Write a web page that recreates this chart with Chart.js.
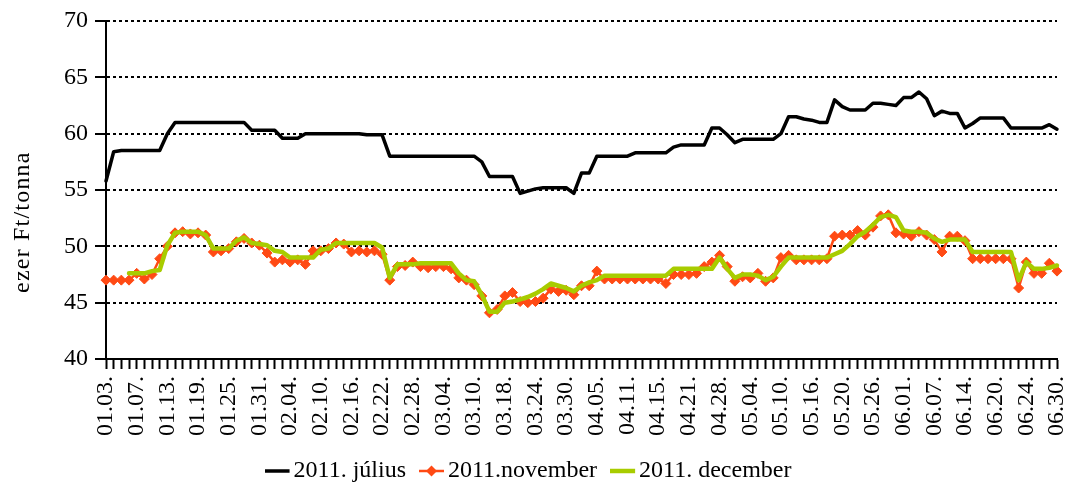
<!DOCTYPE html>
<html>
<head>
<meta charset="utf-8">
<script src="https://cdn.jsdelivr.net/npm/chart.js@4.4.1/dist/chart.umd.min.js"></script>
<style>
  html, body { margin: 0; padding: 0; background: #ffffff; }
  #wrap { width: 1069px; height: 486px; }
</style>
</head>
<body>
<div id="wrap"><canvas id="priceChart" width="1069" height="486"></canvas></div>
<script>
// trading days, 2011 jan - jun
var dates = [
  "01.03.", "01.04.", "01.05.", "01.06.", "01.07.", "01.10.", "01.11.", "01.12.", "01.13.", "01.14.",
  "01.17.", "01.18.", "01.19.", "01.20.", "01.21.", "01.24.", "01.25.", "01.26.", "01.27.", "01.28.",
  "01.31.", "02.01.", "02.02.", "02.03.", "02.04.", "02.07.", "02.08.", "02.09.", "02.10.", "02.11.",
  "02.14.", "02.15.", "02.16.", "02.17.", "02.18.", "02.21.", "02.22.", "02.23.", "02.24.", "02.25.",
  "02.28.", "03.01.", "03.02.", "03.03.", "03.04.", "03.07.", "03.08.", "03.09.", "03.10.", "03.11.",
  "03.16.", "03.17.", "03.18.", "03.21.", "03.22.", "03.23.", "03.24.", "03.25.", "03.28.", "03.29.",
  "03.30.", "03.31.", "04.01.", "04.04.", "04.05.", "04.06.", "04.07.", "04.08.", "04.11.", "04.12.",
  "04.13.", "04.14.", "04.15.", "04.18.", "04.19.", "04.20.", "04.21.", "04.22.", "04.26.", "04.27.",
  "04.28.", "04.29.", "05.02.", "05.03.", "05.04.", "05.05.", "05.06.", "05.09.", "05.10.", "05.11.",
  "05.12.", "05.13.", "05.16.", "05.17.", "05.18.", "05.19.", "05.20.", "05.23.", "05.24.", "05.25.",
  "05.26.", "05.27.", "05.30.", "05.31.", "06.01.", "06.02.", "06.03.", "06.06.", "06.07.", "06.08.",
  "06.09.", "06.10.", "06.14.", "06.15.", "06.16.", "06.17.", "06.20.", "06.21.", "06.22.", "06.23.",
  "06.24.", "06.27.", "06.28.", "06.29.", "06.30."
];

var julius = [
  55.8, 58.4, 58.5, 58.5, 58.5, 58.5, 58.5, 58.5, 60.0, 61.0,
  61.0, 61.0, 61.0, 61.0, 61.0, 61.0, 61.0, 61.0, 61.0, 60.3,
  60.3, 60.3, 60.3, 59.6, 59.6, 59.6, 60.0, 60.0, 60.0, 60.0,
  60.0, 60.0, 60.0, 60.0, 59.9, 59.9, 59.9, 58.0, 58.0, 58.0,
  58.0, 58.0, 58.0, 58.0, 58.0, 58.0, 58.0, 58.0, 58.0, 57.5,
  56.2, 56.2, 56.2, 56.2, 54.7, 54.9, 55.1, 55.2, 55.2, 55.2,
  55.2, 54.7, 56.5, 56.5, 58.0, 58.0, 58.0, 58.0, 58.0, 58.3,
  58.3, 58.3, 58.3, 58.3, 58.8, 59.0, 59.0, 59.0, 59.0, 60.5,
  60.5, 59.9, 59.2, 59.5, 59.5, 59.5, 59.5, 59.5, 60.0, 61.5,
  61.5, 61.3, 61.2, 61.0, 61.0, 63.0, 62.4, 62.1, 62.1, 62.1,
  62.7, 62.7, 62.6, 62.5, 63.2, 63.2, 63.7, 63.1, 61.6, 62.0,
  61.8, 61.8, 60.5, 60.9, 61.4, 61.4, 61.4, 61.4, 60.5, 60.5,
  60.5, 60.5, 60.5, 60.8, 60.4
];

var november = [
  47.0, 47.0, 47.0, 47.0, 47.6, 47.1, 47.5, 48.9, 50.0, 51.2,
  51.3, 51.1, 51.2, 51.0, 49.5, 49.6, 49.8, 50.4, 50.7, 50.3,
  50.1, 49.4, 48.6, 48.8, 48.6, 48.8, 48.4, 49.6, 49.6, 49.8,
  50.3, 50.2, 49.5, 49.6, 49.5, 49.6, 49.3, 47.0, 48.2, 48.3,
  48.6, 48.2, 48.1, 48.2, 48.2, 48.0, 47.2, 47.0, 46.6, 45.6,
  44.1, 44.4, 45.6, 45.9, 45.1, 45.0, 45.1, 45.4, 46.2, 46.0,
  46.1, 45.7, 46.5, 46.5, 47.8, 47.1, 47.1, 47.1, 47.1, 47.1,
  47.1, 47.1, 47.1, 46.7, 47.5, 47.5, 47.5, 47.6, 48.2, 48.6,
  49.2, 48.2, 46.9, 47.3, 47.2, 47.6, 46.9, 47.2, 49.0, 49.2,
  48.8, 48.8, 48.8, 48.8, 48.9, 50.9, 51.0, 51.0, 51.4, 51.0,
  51.7, 52.7, 52.8, 51.2, 51.1, 50.9, 51.3, 51.0, 50.6, 49.5,
  50.9, 50.9, 50.5, 48.9, 48.9, 48.9, 48.9, 48.9, 48.9, 46.3,
  48.6, 47.6, 47.6, 48.5, 47.8
];

var december = [
  null, null, null, 47.6, 47.6, 47.6, 47.8, 47.9, 50.1, 51.2,
  51.3, 51.3, 51.3, 51.0, 49.8, 49.8, 49.8, 50.5, 50.8, 50.3,
  50.2, 50.1, 49.6, 49.5, 49.0, 49.0, 49.0, 49.0, 49.7, 49.8,
  50.3, 50.3, 50.3, 50.3, 50.3, 50.3, 49.9, 47.2, 48.4, 48.4,
  48.4, 48.5, 48.5, 48.5, 48.5, 48.5, 47.6, 47.0, 46.9, 45.7,
  44.2, 44.2, 45.0, 45.1, 45.3, 45.5, 45.8, 46.2, 46.7, 46.5,
  46.3, 46.0, 46.5, 46.8, 47.0, 47.4, 47.4, 47.4, 47.4, 47.4,
  47.4, 47.4, 47.4, 47.4, 48.0, 48.0, 48.0, 48.0, 48.0, 48.0,
  49.0, 48.0, 47.2, 47.5, 47.5, 47.4, 47.0, 47.3, 48.2, 49.0,
  49.0, 49.0, 49.0, 49.0, 49.0, 49.3, 49.6, 50.2, 50.9, 51.3,
  51.9, 52.6, 52.8, 52.6, 51.4, 51.3, 51.3, 51.2, 50.7, 50.4,
  50.6, 50.6, 50.6, 49.5, 49.5, 49.5, 49.5, 49.5, 49.5, 47.0,
  48.6, 48.0, 48.0, 48.1, 48.3
];

var seriesNames = ["2011. július", "2011.november", "2011. december"];
var seriesColors = ["#000000", "#ff4a14", "#a8cc00"];
var yTitle = "ezer Ft/tonna";

var serif = "'Liberation Serif', 'Times New Roman', serif";

// small legend icons: line, or line with diamond
function legendIcon(color, width, diamond) {
  var c = document.createElement("canvas");
  c.width = 26;
  c.height = 14;
  var g = c.getContext("2d");
  g.strokeStyle = color;
  g.lineWidth = width;
  g.beginPath();
  g.moveTo(0, 7);
  g.lineTo(25, 7);
  g.stroke();
  if (diamond) {
    g.fillStyle = color;
    g.beginPath();
    g.moveTo(12.5, 1.5);
    g.lineTo(18, 7);
    g.lineTo(12.5, 12.5);
    g.lineTo(7, 7);
    g.closePath();
    g.fill();
  }
  return c;
}

var icons = [
  legendIcon(seriesColors[0], 3.5, false),
  legendIcon(seriesColors[1], 2.5, true),
  legendIcon(seriesColors[2], 4.5, false)
];

// axis title sits a bit below the middle of the plot, like the original
var yTitlePlugin = {
  id: "yTitle",
  afterDraw: function (chart) {
    var ctx = chart.ctx;
    var area = chart.chartArea;
    ctx.save();
    ctx.translate(23, area.top + (area.bottom - area.top) * 0.595);
    ctx.rotate(-Math.PI / 2);
    ctx.font = "24px " + serif;
    if ("letterSpacing" in ctx) ctx.letterSpacing = "1.2px";
    ctx.fillStyle = "#000000";
    ctx.textAlign = "center";
    ctx.textBaseline = "middle";
    ctx.fillText(yTitle, 0, 0);
    ctx.restore();
  },
};

new Chart(document.getElementById("priceChart"), {
  type: "line",
  data: {
    labels: dates,
    datasets: [
      {
        label: seriesNames[0],
        data: julius,
        borderColor: seriesColors[0],
        borderWidth: 3.5,
        pointRadius: 0,
        order: 2,
      },
      {
        label: seriesNames[1],
        data: november,
        borderColor: seriesColors[1],
        backgroundColor: seriesColors[1],
        borderWidth: 2.5,
        pointStyle: "rectRot",
        pointRadius: 5,
        pointBorderWidth: 1,
        order: 1,
      },
      {
        label: seriesNames[2],
        data: december,
        borderColor: seriesColors[2],
        borderWidth: 4.5,
        pointRadius: 0,
        order: 0,
      },
    ],
  },
  plugins: [yTitlePlugin],
  options: {
    responsive: false,
    animation: false,
    devicePixelRatio: 1,
    clip: false,
    elements: {
      line: { tension: 0, borderJoinStyle: "round", borderCapStyle: "round", fill: false },
    },
    layout: {
      padding: { left: 8, right: 12, top: 21, bottom: 0 },
    },
    plugins: {
      title: { display: false },
      tooltip: { enabled: false },
      legend: {
        display: true,
        position: "bottom",
        maxHeight: 49,
        labels: {
          color: "#000000",
          font: { family: serif, size: 24 },
          usePointStyle: true,
          pointStyleWidth: 8,
          padding: 22,
          generateLabels: function (chart) {
            return chart.data.datasets.map(function (ds, i) {
              return {
                text: ds.label,
                pointStyle: icons[i],
                fillStyle: seriesColors[i],
                strokeStyle: seriesColors[i],
                lineWidth: 0,
                hidden: false,
                datasetIndex: i,
              };
            });
          },
        },
      },
    },
    scales: {
      x: {
        type: "category",
        offset: false,
        afterFit: function (scale) {
          scale.height = 78;
          scale.paddingLeft = 0;
          scale.paddingRight = 0;
        },
        grid: {
          display: true,
          drawOnChartArea: false,
          drawTicks: true,
          tickLength: 10,
          tickColor: "#000000",
          tickWidth: 2,
          color: "#000000",
        },
        border: { display: true, color: "#000000", width: 2 },
        ticks: {
          autoSkip: false,
          minRotation: 90,
          maxRotation: 90,
          padding: 7,
          color: "#000000",
          font: { family: serif, size: 24 },
          callback: function (value, index) {
            return index % 4 === 0 ? this.getLabelForValue(value) : "";
          },
        },
      },
      y: {
        min: 40,
        max: 70,
        afterFit: function (scale) {
          scale.width = 98;
          scale.paddingTop = 0;
          scale.paddingBottom = 0;
        },
        grid: {
          color: "#000000",
          lineWidth: 2,
          tickLength: 11,
          tickColor: "#000000",
          tickWidth: 2,
        },
        border: { display: true, color: "#000000", width: 2, dash: [3, 3] },
        ticks: {
          stepSize: 5,
          padding: 7,
          color: "#000000",
          font: { family: serif, size: 24 },
        },
        title: { display: false },
      },
    },
  },
});
</script>
</body>
</html>
